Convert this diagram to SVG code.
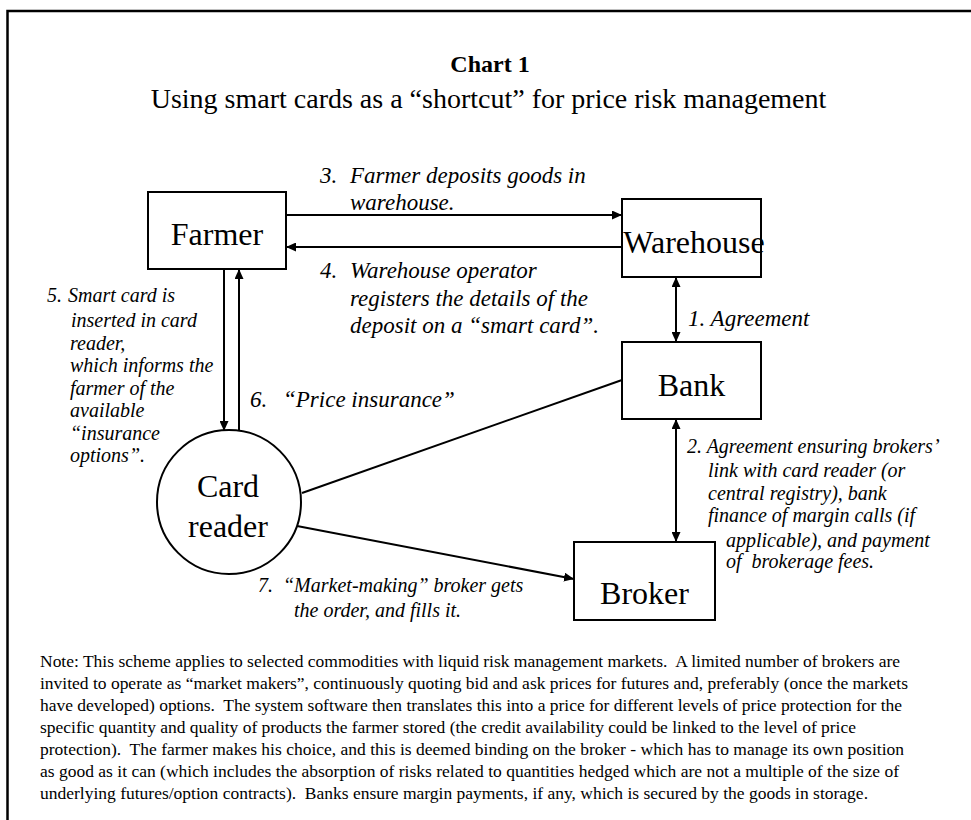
<svg xmlns="http://www.w3.org/2000/svg" width="971" height="820" viewBox="0 0 971 820">
<defs>
<marker id="ah" viewBox="0 0 10 9" markerWidth="10" markerHeight="9" markerUnits="userSpaceOnUse" refX="10" refY="4.5" orient="auto-start-reverse">
<path d="M0,0 L10,4.5 L0,9 z" fill="#000"/>
</marker>
<style>
.box{fill:#fff;stroke:#000;stroke-width:2}
.nl{font-family:"Liberation Serif","Times New Roman",serif;font-size:32px;fill:#000;text-anchor:middle}
.lb{font-family:"Liberation Serif","Times New Roman",serif;font-style:italic;font-size:23px;fill:#000;white-space:pre}
.ls{font-family:"Liberation Serif","Times New Roman",serif;font-style:italic;font-size:20px;fill:#000;white-space:pre}
.note{font-family:"Liberation Serif","Times New Roman",serif;font-size:17.5px;fill:#000;white-space:pre}
.ln{stroke:#000;stroke-width:2;fill:none}
</style>
</defs>
<rect width="971" height="820" fill="#fff"/>
<path d="M7.5,820 V11 H971" fill="none" stroke="#000" stroke-width="2.5"/>
<text x="490" y="72" style="font-family:'Liberation Serif','Times New Roman',serif;font-size:24px;font-weight:bold;text-anchor:middle">Chart 1</text>
<text x="488.5" y="108" style="font-family:'Liberation Serif','Times New Roman',serif;font-size:28px;text-anchor:middle">Using smart cards as a “shortcut” for price risk management</text>

<g id="connectors">
<line class="ln" x1="286" y1="215" x2="622" y2="215" marker-end="url(#ah)"/>
<line class="ln" x1="622" y1="247" x2="286" y2="247" marker-end="url(#ah)"/>
<line class="ln" x1="224" y1="269" x2="224" y2="431" marker-end="url(#ah)"/>
<line class="ln" x1="239" y1="432" x2="239" y2="269" marker-end="url(#ah)"/>
<line class="ln" x1="676" y1="277" x2="676" y2="342" marker-start="url(#ah)" marker-end="url(#ah)"/>
<line class="ln" x1="676" y1="419" x2="676" y2="542" marker-start="url(#ah)" marker-end="url(#ah)"/>
<line class="ln" x1="302" y1="493" x2="622" y2="380"/>
<line class="ln" x1="297" y1="526" x2="574" y2="579" marker-end="url(#ah)"/>
</g>

<g id="farmer">
<rect class="box" x="148" y="192" width="138" height="77"/>
<text class="nl" x="217" y="245">Farmer</text>
</g>
<g id="warehouse">
<rect class="box" x="622" y="199" width="139" height="78"/>
<text class="nl" x="694" y="253">Warehouse</text>
</g>
<g id="bank">
<rect class="box" x="622" y="342" width="139" height="77"/>
<text class="nl" x="691.5" y="396">Bank</text>
</g>
<g id="card-reader">
<circle class="box" cx="229" cy="502" r="72"/>
<text class="nl" x="228" y="497">Card</text>
<text class="nl" x="228" y="537">reader</text>
</g>
<g id="broker">
<rect class="box" x="574" y="542" width="141" height="78"/>
<text class="nl" x="644.5" y="604">Broker</text>
</g>

<g id="labels">
<text class="lb" x="320" y="183">3.</text>
<text class="lb" x="350" y="183">Farmer deposits goods in</text>
<text class="lb" x="350" y="210">warehouse.</text>
<text class="lb" x="320" y="278">4.</text>
<text class="lb" x="350" y="278">Warehouse operator</text>
<text class="lb" x="350" y="306">registers the details of the</text>
<text class="lb" x="350" y="333">deposit on a “smart card”.</text>
<text class="lb" x="688" y="326">1. Agreement</text>
<text class="lb" x="250" y="407">6.</text>
<text class="lb" x="283" y="407">“Price insurance”</text>
<text class="ls" x="47" y="302">5.</text>
<text class="ls" x="68" y="302">Smart card is</text>
<text class="ls" x="71" y="327">inserted in card</text>
<text class="ls" x="70" y="350">reader,</text>
<text class="ls" x="70" y="372">which informs the</text>
<text class="ls" x="70" y="395">farmer of the</text>
<text class="ls" x="70" y="417">available</text>
<text class="ls" x="70" y="440">“insurance</text>
<text class="ls" x="70" y="462">options”.</text>
<text class="ls" x="687" y="453">2. Agreement ensuring brokers’</text>
<text class="ls" x="708" y="477">link with card reader (or</text>
<text class="ls" x="708" y="500">central registry), bank</text>
<text class="ls" x="708" y="522">finance of margin calls (if</text>
<text class="ls" x="726" y="547">applicable), and payment</text>
<text class="ls" x="726" y="568">of  brokerage fees.</text>
<text class="ls" x="258" y="592">7.</text>
<text class="ls" x="283" y="592">“Market-making” broker gets</text>
<text class="ls" x="294" y="617">the order, and fills it.</text>
</g>

<g id="note">
<text class="note" x="40" y="667" textLength="860" lengthAdjust="spacing">Note: This scheme applies to selected commodities with liquid risk management markets.  A limited number of brokers are</text>
<text class="note" x="40" y="689" textLength="868" lengthAdjust="spacing">invited to operate as “market makers”, continuously quoting bid and ask prices for futures and, preferably (once the markets</text>
<text class="note" x="40" y="711" textLength="862" lengthAdjust="spacing">have developed) options.  The system software then translates this into a price for different levels of price protection for the</text>
<text class="note" x="40" y="733" textLength="816" lengthAdjust="spacing">specific quantity and quality of products the farmer stored (the credit availability could be linked to the level of price</text>
<text class="note" x="40" y="755" textLength="864" lengthAdjust="spacing">protection).  The farmer makes his choice, and this is deemed binding on the broker - which has to manage its own position</text>
<text class="note" x="40" y="777" textLength="859" lengthAdjust="spacing">as good as it can (which includes the absorption of risks related to quantities hedged which are not a multiple of the size of</text>
<text class="note" x="40" y="799" textLength="828" lengthAdjust="spacing">underlying futures/option contracts).  Banks ensure margin payments, if any, which is secured by the goods in storage.</text>
</g>
</svg>
